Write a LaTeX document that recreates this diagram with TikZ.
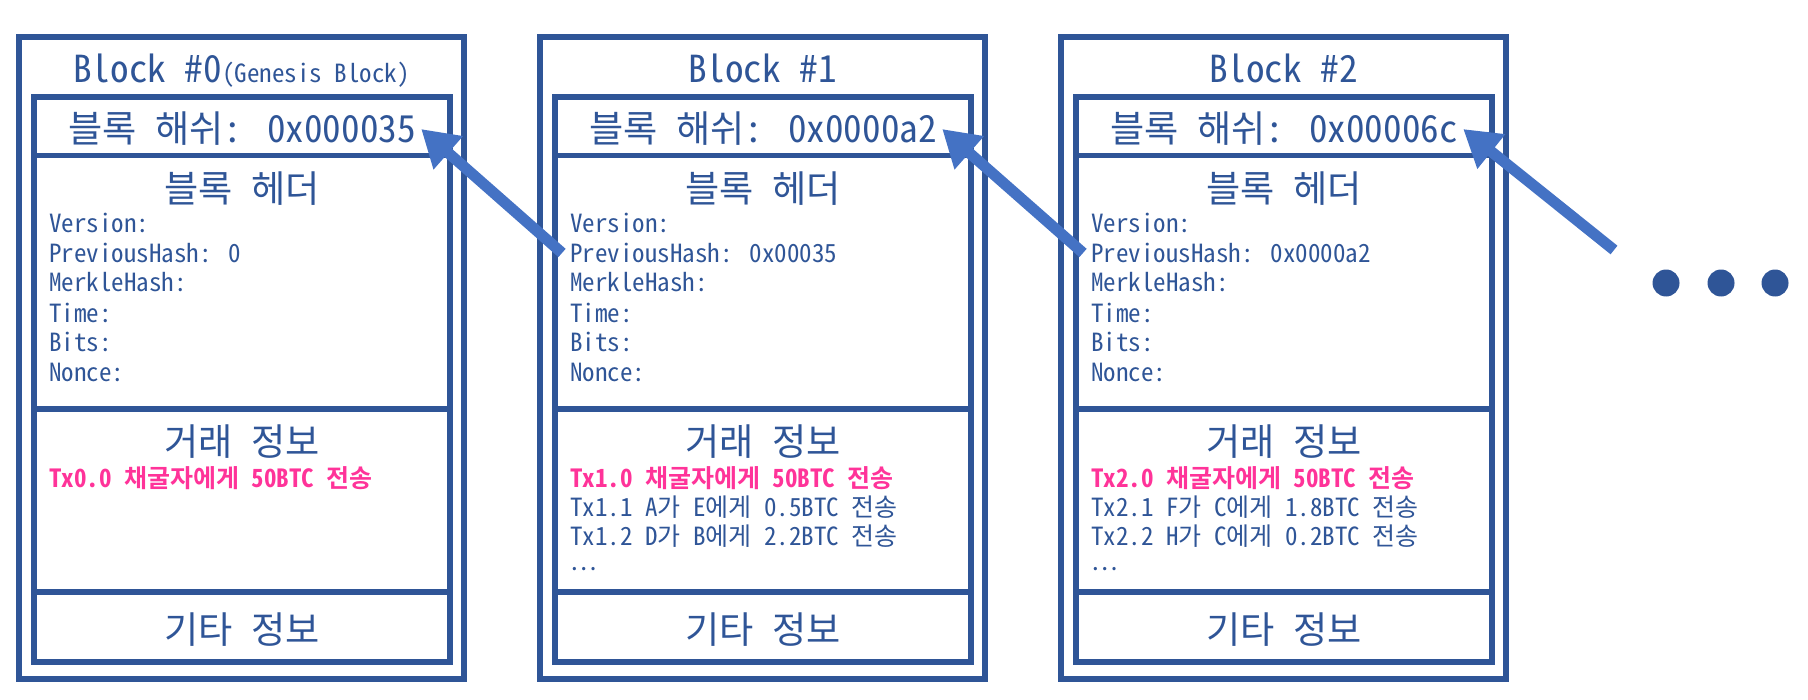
\documentclass[tikz,border=0pt]{standalone}
\usepackage{fontspec}
\usetikzlibrary{arrows.meta}
\newfontfamily\kmono{Noto Sans Mono CJK KR}
\definecolor{boxblue}{HTML}{2F5597}
\definecolor{arrblue}{HTML}{4472C4}
\definecolor{txpink}{HTML}{FF3399}
\newcommand\bigf{\kmono\fontsize{18.6}{22}\selectfont}
\newcommand\smallf{\kmono\fontsize{12.5}{15}\selectfont}
\tikzset{
 frame/.style={draw=boxblue, line width=2.85pt, inner sep=0pt},
 sect/.style={frame, minimum width=208pt},
 bigtxt/.style={font=\bigf, text=boxblue, inner sep=0pt, anchor=base},
 fld/.style={font=\smallf, text=boxblue, inner sep=0pt, anchor=base west},
 txhi/.style={fld, text=txpink, font=\smallf\bfseries},
 link/.style={draw=arrblue, line width=5.5pt, -{Triangle[length=18pt,width=21pt]}},
 bigdot/.style={circle, fill=boxblue, minimum size=13.5pt, inner sep=0pt}
}
\begin{document}
\begin{tikzpicture}[x=0.5pt,y=-0.5pt]
\useasboundingbox (0,0) rectangle (1808,700);
\foreach \i/\dx/\title/\hash/\prev in {0/0/{Block \#0{\smallf(Genesis Block)}}/0x000035/0, 1/521/{Block \#1}/0x0000a2/0x00035, 2/1042/{Block \#2}/0x00006c/0x0000a2}{
 \begin{scope}[xshift=\dx*0.5pt]
  \node[frame, minimum width=222.5pt, minimum height=321pt] (o\i) at (241.5,358) {};
  \node[sect, minimum height=29.25pt] (hs\i) at (242,126.25) {};
  \node[sect, minimum height=126.75pt] (hd\i) at (242,282.25) {};
  \node[sect, minimum height=91.5pt] (tx\i) at (242,500.5) {};
  \node[sect, minimum height=35pt] (et\i) at (242,627) {};
  \node[bigtxt] (t\i) at (241.5,83) {\title};
  \node[bigtxt] (h\i) at (242,143) {블록 해쉬: \hash};
  \node[bigtxt] (hh\i) at (242,203) {블록 헤더};
  \node[fld] (v\i) at (49,233) {Version:};
  \node[fld] (p\i) at (49,262.5) {PreviousHash: \prev};
  \node[fld] (m\i) at (49,292) {MerkleHash:};
  \node[fld] (tm\i) at (49,322) {Time:};
  \node[fld] (bi\i) at (49,351) {Bits:};
  \node[fld] (n\i) at (49,381) {Nonce:};
  \node[bigtxt] (gt\i) at (242,455) {거래 정보};
  \node[bigtxt] (e\i) at (242,643) {기타 정보};
 \end{scope}
}
\node[txhi] (x00) at (49,487) {Tx0.0 채굴자에게 50BTC 전송};
\node[txhi] (x10) at (570,487) {Tx1.0 채굴자에게 50BTC 전송};
\node[fld] (x11) at (570,516) {Tx1.1 A가 E에게 0.5BTC 전송};
\node[fld] (x12) at (570,545) {Tx1.2 D가 B에게 2.2BTC 전송};
\node[fld] (x13) at (570,570) {…};
\node[txhi] (x20) at (1091,487) {Tx2.0 채굴자에게 50BTC 전송};
\node[fld] (x21) at (1091,516) {Tx2.1 F가 C에게 1.8BTC 전송};
\node[fld] (x22) at (1091,545) {Tx2.2 H가 C에게 0.2BTC 전송};
\node[fld] (x23) at (1091,570) {…};
\draw[link] ([xshift=-4pt]p1.west) -- ([xshift=2.5pt]h0.east);
\draw[link] ([xshift=-4pt]p2.west) -- ([xshift=2.5pt]h1.east);
\coordinate (more) at (1614,250);
\draw[link] (more) -- ([xshift=2.5pt]h2.east);
\node[bigdot] (d1) at (1666,283) {};
\node[bigdot] (d2) at (1721,283) {};
\node[bigdot] (d3) at (1775,283) {};
\end{tikzpicture}
\end{document}
